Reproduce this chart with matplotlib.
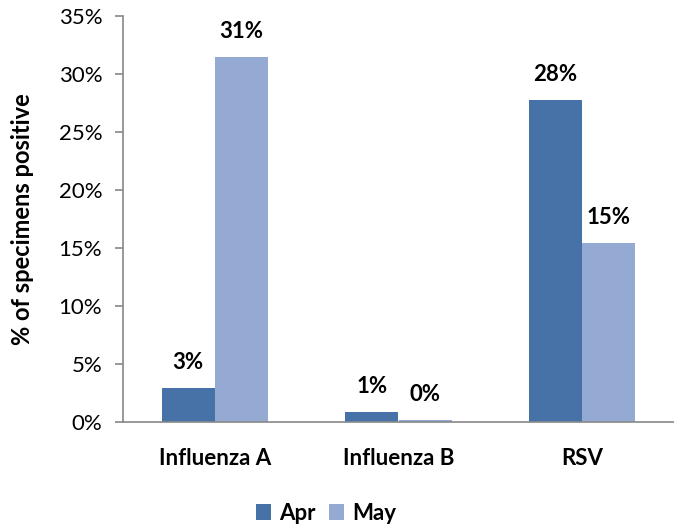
import numpy as np
import matplotlib
matplotlib.use('Agg')
from matplotlib import pyplot as plt
from matplotlib.ticker import FuncFormatter

categories = ['Influenza A', 'Influenza B', 'RSV']
apr = [2.93, 0.86, 27.76]
may = [31.47, 0.15, 15.4]
apr_labels = ['3%', '1%', '28%']
may_labels = ['31%', '0%', '15%']
series_names = ['Apr', 'May']

plt.rcParams['font.family'] = ['Lato', 'DejaVu Sans']

fig = plt.figure(figsize=(6.74, 5.29), dpi=100)
ax = fig.add_axes([123 / 674, 1 - 422 / 529, 551 / 674, 406 / 529])

x = np.arange(len(categories))
w = 0.29
b1 = ax.bar(x - w / 2, apr, w, color='#4672A7', label=series_names[0])
b2 = ax.bar(x + w / 2, may, w, color='#95AAD2', label=series_names[1])

for bars, labs in ((b1, apr_labels), (b2, may_labels)):
    for rect, lab in zip(bars, labs):
        ax.annotate(lab, (rect.get_x() + rect.get_width() / 2, rect.get_height()),
                    xytext=(0, 11), textcoords='offset points', ha='center', va='bottom',
                    fontsize=16, fontweight='bold')

ax.set_xlim(-0.5, 2.5)
ax.set_ylim(0, 35)
ax.set_yticks(np.arange(0, 36, 5))
ax.yaxis.set_major_formatter(FuncFormatter(lambda v, p: '%d%%' % v))
ax.set_xticks(x)
ax.set_xticklabels(categories, fontsize=16, fontweight='bold')
ax.tick_params(axis='y', labelsize=16, length=6, width=1.2, color='#888888', pad=9)
ax.tick_params(axis='x', length=0, pad=19)

for s in ('top', 'right'):
    ax.spines[s].set_visible(False)
for s in ('left', 'bottom'):
    ax.spines[s].set_color('#888888')
    ax.spines[s].set_linewidth(1.2)

ax.set_ylabel('% of specimens positive', fontsize=17, fontweight='bold', labelpad=18)

ax.legend(loc='center', bbox_to_anchor=(326 / 674, 1 - 513 / 529), bbox_transform=fig.transFigure,
          ncol=2, frameon=False, prop={'size': 16, 'weight': 'bold'},
          handlelength=0.7, handleheight=0.7, handletextpad=0.35, columnspacing=0.6)

fig.savefig('out.png', dpi=100)
